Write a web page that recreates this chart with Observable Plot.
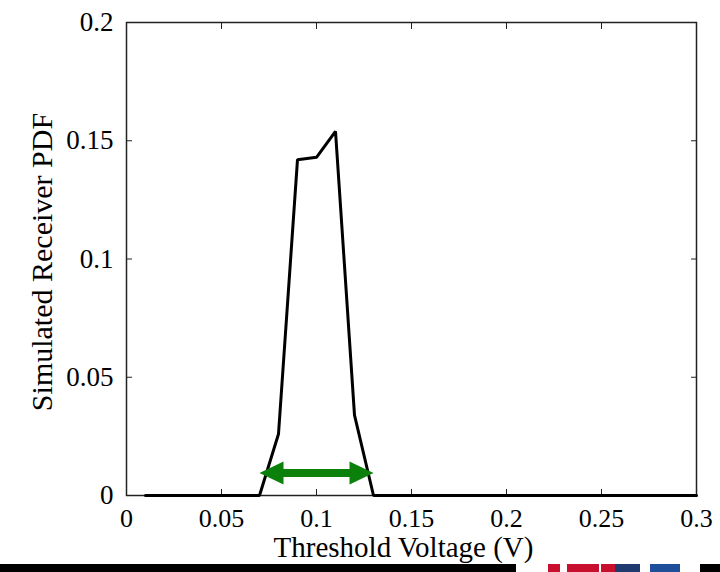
<!DOCTYPE html>
<html>
<head>
<meta charset="utf-8">
<script src="https://cdn.jsdelivr.net/npm/d3@7"></script>
<script src="https://cdn.jsdelivr.net/npm/@observablehq/plot@0.6"></script>
<style>
  html, body { margin: 0; padding: 0; background: #fff; }
  #wrap { position: relative; width: 720px; height: 572px; overflow: hidden; }
  .deco { position: absolute; }
</style>
</head>
<body>
<div id="wrap"></div>
<script>
// Threshold voltage (V)
const voltage = [0.01,0.02,0.03,0.04,0.05,0.06,0.07,0.08,0.09,0.10,0.11,0.12,0.13,0.14,0.15,
                 0.16,0.17,0.18,0.19,0.20,0.21,0.22,0.23,0.24,0.25,0.26,0.27,0.28,0.29,0.30];
// Simulated receiver PDF
const pdf = [0,0,0,0,0,0,0,0.026,0.142,0.143,0.154,0.034,0,0,0,
             0,0,0,0,0,0,0,0,0,0,0,0,0,0,0];
const xTicks = [0,0.05,0.1,0.15,0.2,0.25,0.3];
const yTicks = [0,0.05,0.1,0.15,0.2];
const xTitle = "Threshold Voltage (V)";
const yTitle = "Simulated Receiver PDF";
// Green double-headed arrow marking the spread
const arrowRange = [0.07, 0.13];
const arrowLevel = 0.0095;

const curve = voltage.map((v, i) => ({v, p: pdf[i]}));
const arrowEnds = arrowRange.map((v, i) => ({v, p: arrowLevel, side: i}));

const headLeft = {draw(c) { c.moveTo(0, 0); c.lineTo(24, -11.5); c.lineTo(24, 11.5); c.closePath(); }};
const headRight = {draw(c) { c.moveTo(0, 0); c.lineTo(-24, -11.5); c.lineTo(-24, 11.5); c.closePath(); }};

const font = "'Liberation Serif', 'Times New Roman', serif";
const green = "#0b800b";
const fmt = d => String(d);

const chart = Plot.plot({
  width: 720,
  height: 572,
  marginLeft: 126,
  marginRight: 24,
  marginTop: 22,
  marginBottom: 77,
  style: {fontFamily: font, background: "#fff", color: "#000", overflow: "visible"},
  x: {domain: [0, 0.3], axis: null},
  y: {domain: [0, 0.2], axis: null},
  marks: [
    Plot.frame({stroke: "#222", strokeWidth: 1.5}),
    Plot.axisX(xTicks, {anchor: "bottom", tickSize: -6, tickPadding: 19, fontSize: 26, label: null, stroke: "#222", tickFormat: fmt}),
    Plot.axisX(xTicks, {anchor: "top", tickSize: -6, fill: "none", label: null, stroke: "#222"}),
    Plot.axisY(yTicks, {anchor: "left", tickSize: -6, tickPadding: 19, fontSize: 27, label: null, stroke: "#222", tickFormat: fmt}),
    Plot.axisY(yTicks, {anchor: "right", tickSize: -6, fill: "none", label: null, stroke: "#222"}),
    Plot.line(curve, {x: "v", y: "p", stroke: "#000", strokeWidth: 3, strokeLinejoin: "miter"}),
    Plot.ruleY([arrowLevel], {x1: arrowRange[0], x2: arrowRange[1], stroke: green, strokeWidth: 8, insetLeft: 20, insetRight: 20}),
    Plot.dot(arrowEnds.filter(d => d.side === 0), {x: "v", y: "p", symbol: headLeft, fill: green, stroke: "none"}),
    Plot.dot(arrowEnds.filter(d => d.side === 1), {x: "v", y: "p", symbol: headRight, fill: green, stroke: "none"}),
    Plot.text([xTitle], {frameAnchor: "bottom", text: d => d, fontSize: 29, dx: -8, dy: 52, textAnchor: "middle", lineAnchor: "middle", fill: "#000"}),
    Plot.text([yTitle], {frameAnchor: "left", text: d => d, fontSize: 30, rotate: -90, dx: -84, dy: 3, textAnchor: "middle", lineAnchor: "middle", fill: "#000"})
  ]
});

const wrap = document.getElementById("wrap");
wrap.appendChild(chart);

// bottom slide-edge strip seen in the reference image
const strips = [
  {l: 0, w: 516, c: "#000"},
  {l: 548, w: 12, c: "#c8102e"},
  {l: 567, w: 32, c: "#c8102e"},
  {l: 601, w: 14, c: "#c8102e"},
  {l: 615, w: 25, c: "#1f3a6e"},
  {l: 650, w: 30, c: "#1f4f9a"},
  {l: 700, w: 20, c: "#000"}
];
for (const s of strips) {
  const d = document.createElement("div");
  d.className = "deco";
  d.style.left = s.l + "px";
  d.style.width = s.w + "px";
  d.style.top = "564px";
  d.style.height = "8px";
  d.style.background = s.c;
  wrap.appendChild(d);
}
</script>
</body>
</html>
